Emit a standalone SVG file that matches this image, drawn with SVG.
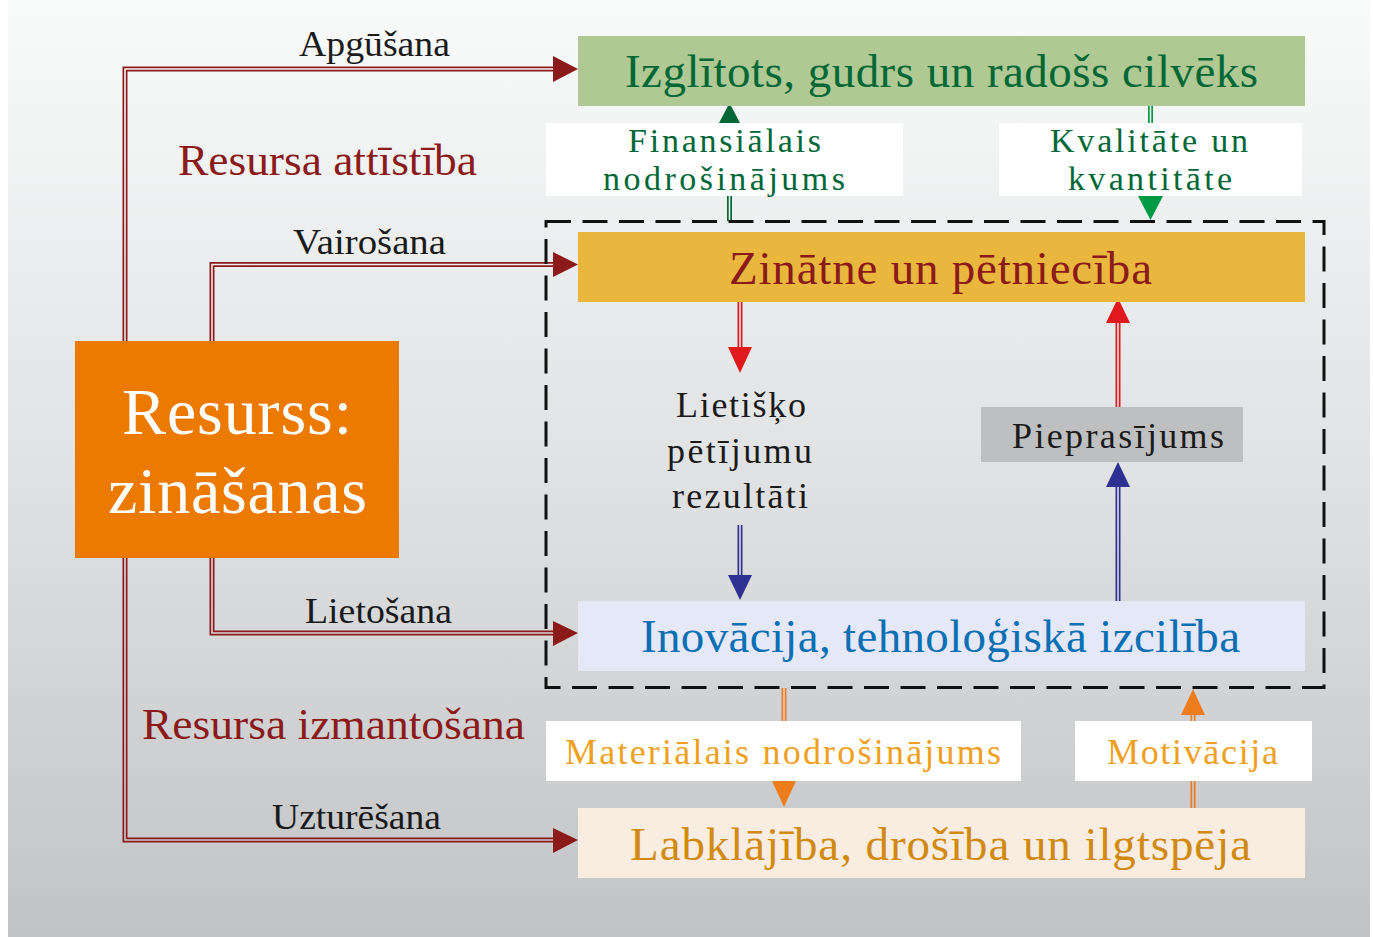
<svg xmlns="http://www.w3.org/2000/svg" width="1373" height="937" viewBox="0 0 1373 937">
<defs>
<linearGradient id="bg" gradientUnits="userSpaceOnUse" x1="0" y1="0" x2="0" y2="937">
<stop offset="0" stop-color="#f9fafa"/>
<stop offset="0.5" stop-color="#e1e2e3"/>
<stop offset="1" stop-color="#c2c3c5"/>
</linearGradient>
</defs>
<style>
text{font-family:"Liberation Serif","Times New Roman",serif;text-anchor:middle}
.dl{fill:none;stroke-width:5;stroke-linejoin:miter}
.gap{fill:none;stroke:url(#bg);stroke-width:1.6;stroke-linejoin:miter}
.dr{stroke:#8b1a1a}.drf{fill:#8b1a1a}
.rd{stroke:#e0191c}.rdf{fill:#e0191c}
.bl{stroke:#2e3192}.blf{fill:#2e3192}
.or{stroke:#ed7d1c}.orf{fill:#ed7d1c}
.gd{stroke:#006837}.gdf{fill:#006837}
.gl{stroke:#009a44}.glf{fill:#009a44}
.lbl{font-size:36px;fill:#1a1a1a}
.big{font-size:47px}
.mid{font-size:36px}
.two{font-size:34px}
.wbox{fill:#ffffff}
</style>
<rect x="0" y="0" width="1373" height="937" fill="#ffffff"/>
<rect x="8" y="0" width="1362" height="937" fill="url(#bg)"/>

<g id="connectors">
  <path class="dl dr" d="M125,341 V69 H555"/><path class="gap" d="M125,341 V69 H555"/>
  <polygon class="drf" points="553,56 578,69 553,82"/>
  <path class="dl dr" d="M212,341 V264.5 H555"/><path class="gap" d="M212,341 V264.5 H555"/>
  <polygon class="drf" points="553,252 578,264.5 553,277"/>
  <path class="dl dr" d="M212,558 V633 H555"/><path class="gap" d="M212,558 V633 H555"/>
  <polygon class="drf" points="553,621 578,633 553,646"/>
  <path class="dl dr" d="M125,558 V840 H555"/><path class="gap" d="M125,558 V840 H555"/>
  <polygon class="drf" points="553,828 578,840 553,853"/>

  <path class="dl gd" d="M729.5,221 V124"/><path class="gap" d="M729.5,221 V124"/>
  <polygon class="gdf" points="719,123 740,123 729.5,103"/>
  <path class="dl gl" d="M1150.5,106 V198"/><path class="gap" d="M1150.5,106 V198"/>

  <path class="dl rd" d="M740,302 V348"/><path class="gap" d="M740,302 V348"/>
  <polygon class="rdf" points="728,347 752,347 740,373"/>
  <path class="dl bl" d="M740,525 V576"/><path class="gap" d="M740,525 V576"/>
  <polygon class="blf" points="728,575 752,575 740,600"/>
  <path class="dl rd" d="M1118,407 V322"/><path class="gap" d="M1118,407 V322"/>
  <polygon class="rdf" points="1106,323 1130,323 1118,298"/>
  <path class="dl bl" d="M1118,601 V486"/><path class="gap" d="M1118,601 V486"/>
  <polygon class="blf" points="1106,487 1130,487 1118,462"/>

  <path class="dl or" d="M784,688 V782"/><path class="gap" d="M784,688 V782"/>
  <path class="dl or" d="M1193,808 V714"/><path class="gap" d="M1193,808 V714"/>
  <polygon class="orf" points="1181,715 1205,715 1193,689"/>

  <text class="lbl" x="374.5" y="56" textLength="151" lengthAdjust="spacingAndGlyphs">Apgūšana</text>
  <text class="lbl" x="369.5" y="254" textLength="153" lengthAdjust="spacingAndGlyphs">Vairošana</text>
  <text class="lbl" x="378.5" y="623" textLength="147" lengthAdjust="spacingAndGlyphs">Lietošana</text>
  <text class="lbl" x="356.5" y="829" textLength="169" lengthAdjust="spacingAndGlyphs">Uzturēšana</text>
</g>

<g id="dashed-frame">
  <rect x="546" y="221.5" width="778" height="466" fill="none" stroke="#111111" stroke-width="3" stroke-dasharray="25 11.5"/>
</g>

<g id="section-labels">
  <text x="327.5" y="175" font-size="45" fill="#8b1a1a" textLength="299" lengthAdjust="spacingAndGlyphs">Resursa attīstība</text>
  <text x="333.5" y="739" font-size="45" fill="#8b1a1a" textLength="383" lengthAdjust="spacingAndGlyphs">Resursa izmantošana</text>
</g>

<g id="node-izglitots">
  <rect x="578" y="36" width="727" height="70" fill="#b0c893"/>
  <text class="big" x="941.5" y="87" fill="#006837" textLength="633" lengthAdjust="spacing">Izglītots, gudrs un radošs cilvēks</text>
</g>

<g id="node-zinatne">
  <rect x="578" y="232" width="727" height="70" fill="#e9b73e"/>
  <text class="big" x="940.5" y="284" fill="#8b1a1a" textLength="423" lengthAdjust="spacing">Zinātne un pētniecība</text>
</g>

<g id="node-inovacija">
  <rect x="578" y="601" width="727" height="70" fill="#e4e8f7"/>
  <text class="big" x="940.5" y="652" fill="#0b6fb3" textLength="599" lengthAdjust="spacing">Inovācija, tehnoloģiskā izcilība</text>
</g>

<g id="node-labklajiba">
  <rect x="578" y="808" width="727" height="70" fill="#f9ece0"/>
  <text class="big" x="940.5" y="860" fill="#d08a10" textLength="621" lengthAdjust="spacing">Labklājība, drošība un ilgtspēja</text>
</g>

<g id="node-resurss">
  <rect x="75" y="341" width="324" height="217" fill="#ec7a00"/>
  <text x="237" y="434" font-size="66" fill="#ffffff" textLength="230" lengthAdjust="spacing">Resurss:</text>
  <text x="237.5" y="513" font-size="66" fill="#ffffff" textLength="259" lengthAdjust="spacing">zināšanas</text>
</g>

<g id="node-finansialais">
  <rect class="wbox" x="546" y="123" width="357" height="73"/>
  <text class="two" x="724.5" y="152" fill="#006837" textLength="193" lengthAdjust="spacing">Finansiālais</text>
  <text class="two" x="724" y="190" fill="#006837" textLength="242" lengthAdjust="spacing">nodrošinājums</text>
</g>

<g id="node-kvalitate">
  <rect class="wbox" x="999" y="123" width="303" height="73"/>
  <text class="two" x="1149" y="152" fill="#006837" textLength="198" lengthAdjust="spacing">Kvalitāte un</text>
  <text class="two" x="1150" y="190" fill="#006837" textLength="164" lengthAdjust="spacing">kvantitāte</text>
  <polygon class="glf" points="1138,196 1163,196 1150.5,220"/>
</g>

<g id="node-lietisko">
  <text class="mid" x="741" y="417" fill="#1a1a1a" textLength="130" lengthAdjust="spacing">Lietišķo</text>
  <text class="mid" x="739.5" y="463" fill="#1a1a1a" textLength="145" lengthAdjust="spacing">pētījumu</text>
  <text class="mid" x="740" y="508" fill="#1a1a1a" textLength="136" lengthAdjust="spacing">rezultāti</text>
</g>

<g id="node-pieprasijums">
  <rect x="981" y="407" width="262" height="55" fill="#bebfc1"/>
  <text class="mid" x="1118" y="448" fill="#1a1a1a" textLength="212" lengthAdjust="spacing">Pieprasījums</text>
</g>

<g id="node-materialais">
  <rect class="wbox" x="546" y="721" width="475" height="60"/>
  <text class="mid" x="783" y="764" fill="#f0a020" textLength="436" lengthAdjust="spacing">Materiālais nodrošinājums</text>
  <polygon class="orf" points="772,781 796,781 784,807"/>
</g>

<g id="node-motivacija">
  <rect class="wbox" x="1075" y="721" width="237" height="60"/>
  <text class="mid" x="1192.5" y="764" fill="#f0a020" textLength="171" lengthAdjust="spacing">Motivācija</text>
</g>
</svg>
